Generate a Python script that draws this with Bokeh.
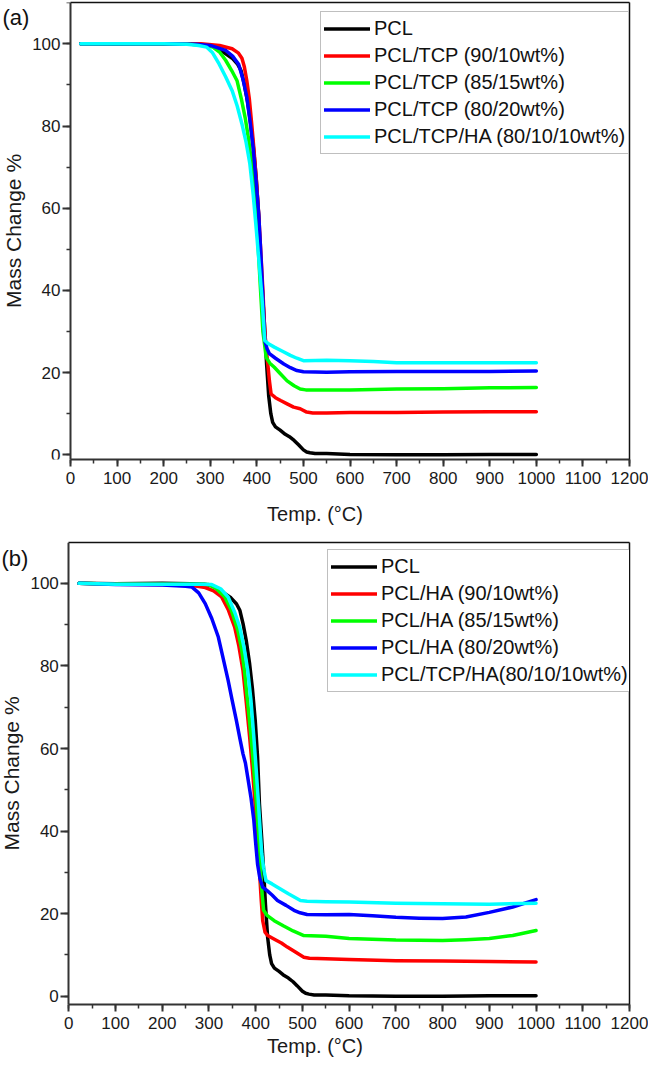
from bokeh.plotting import figure
from bokeh.models import (Range1d, SingleIntervalTicker, FixedTicker, Legend, LegendItem, Label,
                          LinearAxis)
from bokeh.layouts import column
from bokeh.embed import file_html
from bokeh.resources import INLINE

FONT = "Liberation Sans"

# ---------------- data ----------------
# PCL (same sample in both panels)
pcl_T = [22, 100, 200, 260, 290, 306, 320, 334, 347, 359, 366, 373, 380, 387, 393, 399, 404, 408,
         413, 417, 421, 425.5, 430, 434, 440, 450, 461, 470, 480, 489, 500, 507, 514, 525, 550, 600,
         700, 800, 900, 1000]
pcl_m = [100, 99.9, 100, 99.9, 99.8, 99.5, 98.6, 97.5, 96.5, 95, 93.5, 90.2, 86, 80.5, 74.5, 66.8,
         58, 46.6, 38, 30.5, 22, 14.3, 10, 7.9, 6.8, 6, 5, 4.4, 3.5, 2.5, 1.2, 0.7, 0.5, 0.3, 0.3,
         0.1, 0.0, 0.0, 0.1, 0.1]

# Panel (a): PCL/TCP composites
tcp90_T = [22, 100, 200, 280, 320, 347, 360, 368, 373, 378.5, 384, 389, 394, 399, 404, 408, 413, 417,
           420, 423.6, 427, 430.6, 440, 451, 465, 479, 493, 507, 520, 550, 600, 700, 800, 900, 1000]
tcp90_m = [100, 100, 100, 100, 99.6, 98.8, 97.8, 96.5, 94.5, 91, 86.5, 80.5, 74, 66.7, 58.5, 50.5,
           40, 30, 26, 22, 18, 14.8, 13.9, 13.2, 12.4, 11.6, 11.2, 10.4, 10.2, 10.2, 10.3, 10.3,
           10.4, 10.5, 10.5]

tcp85_T = [22, 100, 200, 260, 285, 305.6, 320, 333, 346, 357.6, 367, 375, 382, 389, 395, 401, 407,
           413, 417, 420, 428, 437.5, 450, 465, 480, 493, 505, 550, 600, 700, 800, 900, 1000]
tcp85_m = [100, 100, 100, 99.9, 99.6, 99.2, 98, 96, 93.5, 91, 86.5, 82, 77, 70.8, 63, 54.6, 42, 30,
           26.5, 23.7, 22.3, 21.3, 19.8, 18, 16.8, 16, 15.8, 15.8, 15.8, 16, 16.1, 16.3, 16.4]

tcp80_T = [22, 100, 200, 270, 300, 333, 348, 361, 370, 378.5, 385, 392, 398, 404, 409, 413, 417,
           422, 427, 440, 458, 472, 486, 500, 550, 600, 700, 800, 900, 1000]
tcp80_m = [100, 100, 100, 99.9, 99.6, 98.4, 97, 95, 91.5, 87, 81.5, 74.8, 67, 58.6, 48, 38.3, 27.8,
           25.8, 24.6, 23.5, 22.1, 21.2, 20.5, 20.2, 20.1, 20.2, 20.3, 20.3, 20.3, 20.4]

tcpha_a_T = [22, 100, 200, 250, 275, 292, 305, 319, 333, 347, 358, 368, 377, 385, 392, 399, 405,
             411, 417, 425, 437.5, 455, 472, 486, 500, 550, 600, 650, 700, 800, 900, 1000]
tcpha_a_m = [100, 100, 100, 99.9, 99.6, 99.2, 97.8, 95.1, 92, 88.6, 84.8, 80.5, 76, 70.8, 63.5,
             54.6, 46.5, 38.3, 27.8, 27, 26.2, 25.2, 24.2, 23.5, 22.9, 23, 22.9, 22.7, 22.4, 22.4,
             22.4, 22.4]

# Panel (b): PCL/HA composites
ha90_T = [22, 100, 200, 250, 275, 292, 310, 327, 341, 355, 364, 372.8, 380, 387, 393, 398.7, 404,
          408, 412, 415, 420, 425.5, 440, 455, 467.7, 485, 503, 515, 550, 600, 700, 800, 900, 1000]
ha90_m = [100, 99.8, 99.7, 99.6, 99.3, 99, 98.2, 96.7, 93.7, 89.4, 84.8, 78.9, 71, 62.8, 55, 46.6,
          38, 30.5, 23, 18.3, 15.5, 14.7, 13.8, 12.9, 11.9, 10.7, 9.45, 9.2, 9.1, 8.9, 8.6, 8.5,
          8.4, 8.3]

ha85_T = [22, 100, 200, 260, 285, 299, 315, 334, 348, 362, 370, 376, 383, 390, 396, 401.6, 406, 410,
          414, 417, 425, 439.6, 460, 480, 503, 550, 600, 700, 800, 850, 900, 950, 1000]
ha85_m = [100, 99.8, 99.8, 99.8, 99.8, 99.7, 98.8, 96.7, 93.5, 88.5, 84, 78.9, 71, 62.8, 55, 46.6,
          39, 30.5, 24.5, 20.8, 19.5, 18.3, 17, 15.8, 14.7, 14.5, 14.0, 13.6, 13.5, 13.7, 14.0,
          14.7, 15.9]

ha80_T = [22, 100, 200, 230, 250, 263.7, 278, 292, 306, 320, 330, 341, 350, 358.6, 366, 372.8, 378,
          383, 390, 396, 400, 404, 409, 415, 425, 435, 446.6, 465, 481.9, 495, 510, 550, 600, 650,
          700, 750, 800, 850, 900, 950, 1000]
ha80_m = [100, 99.7, 99.6, 99.4, 99.3, 99.1, 97.7, 95.1, 91.5, 87, 82, 76.5, 71.5, 66.8, 62.5, 58.7,
          56.5, 53, 48, 42.6, 37, 32, 28.5, 26.4, 25.5, 24.5, 23.2, 22, 20.8, 20.2, 19.8, 19.7,
          19.8, 19.5, 19.1, 18.9, 18.8, 19.2, 20.3, 21.6, 23.4]

tcpha_b_T = [22, 100, 200, 260, 285, 306, 325, 341, 355, 365.8, 375, 383, 390, 396, 401, 406, 410,
             413, 417, 422, 435, 446.6, 470, 495.8, 510, 550, 600, 700, 800, 900, 1000]
tcpha_b_m = [100, 99.8, 99.8, 99.8, 99.8, 99.7, 98.7, 96.7, 93, 89.4, 84.5, 78.9, 71.5, 62.8, 55,
             46.6, 39.5, 34.5, 31, 28, 27.2, 26.4, 24.8, 23.2, 23, 22.9, 22.8, 22.5, 22.4, 22.3,
             22.5]

labels_a = ["PCL", "PCL/TCP (90/10wt%)", "PCL/TCP (85/15wt%)", "PCL/TCP (80/20wt%)",
            "PCL/TCP/HA (80/10/10wt%)"]
labels_b = ["PCL", "PCL/HA (90/10wt%)", "PCL/HA (85/15wt%)", "PCL/HA (80/20wt%)",
            "PCL/TCP/HA(80/10/10wt%)"]
colors = ["#000000", "#FF0000", "#00FF00", "#0000FF", "#00FFFF"]

x_min, x_max = 0, 1200
x_ticks_interval = 100
y_ticks_interval = 20
x_label = "Temp. (°C)"
y_label = "Mass Change %"


def style_axis(ax):
    ax.axis_line_color = "#333333"
    ax.axis_line_width = 2
    ax.major_tick_line_color = "#333333"
    ax.minor_tick_line_color = "#333333"
    ax.major_tick_line_width = 2
    ax.minor_tick_line_width = 1.5
    ax.major_tick_in = 0
    ax.major_tick_out = 8
    ax.minor_tick_in = 0
    ax.minor_tick_out = 4
    ax.major_label_text_font = FONT
    ax.major_label_text_font_size = "17px"
    ax.major_label_text_color = "#1a1a1a"
    ax.axis_label_text_font = FONT
    ax.axis_label_text_font_style = "normal"
    ax.axis_label_text_color = "#1a1a1a"


def make_panel(series, labels, height, x_left_pad, y_start, y_end, mb_right, mb_top, mb_bottom,
               legend_loc, label_width, tag, tag_xy, xlabel_standoff):
    # frame extends left of x=0 so that the y axis (fixed at x=0), its labels and the
    # panel tag all sit inside the frame
    p = figure(width=648, height=height, x_range=Range1d(x_left_pad, x_max),
               y_range=Range1d(y_start, y_end), output_backend="svg", toolbar_location=None,
               y_axis_location=None, min_border_left=0, min_border_right=mb_right,
               min_border_top=mb_top, min_border_bottom=mb_bottom, frame_align=False)
    p.grid.visible = False
    p.outline_line_color = None
    p.background_fill_color = "white"
    p.border_fill_color = "white"

    # bottom axis
    p.xaxis.ticker = SingleIntervalTicker(interval=x_ticks_interval, num_minor_ticks=2)
    p.xaxis.bounds = (x_min, x_max)
    p.xaxis.axis_label = x_label
    style_axis(p.xaxis[0])
    p.xaxis.major_tick_out = 7
    p.xaxis.axis_label_text_font_size = "20px"
    p.xaxis.major_label_standoff = 5
    p.xaxis.axis_label_standoff = xlabel_standoff

    # left axis at x = 0
    yax = LinearAxis(fixed_location=x_min,
                     ticker=SingleIntervalTicker(interval=y_ticks_interval, num_minor_ticks=2),
                     axis_label=y_label)
    style_axis(yax)
    yax.axis_label_text_font_size = "21px"
    yax.major_label_standoff = 2
    yax.axis_label_standoff = 4
    p.add_layout(yax, "left")

    # top and right edges of the box
    top = LinearAxis(ticker=FixedTicker(ticks=[]), bounds=(x_min, x_max),
                     axis_line_color="#111111", axis_line_width=1.5,
                     major_tick_out=0, minor_tick_out=0, major_tick_in=0, minor_tick_in=0)
    p.add_layout(top, "above")
    right = LinearAxis(ticker=FixedTicker(ticks=[]), axis_line_color="#111111",
                       axis_line_width=1.5, major_tick_out=0, minor_tick_out=0,
                       major_tick_in=0, minor_tick_in=0)
    p.add_layout(right, "right")

    items = []
    for (T, m), lab, col in zip(series, labels, colors):
        r = p.line(T, m, line_color=col, line_width=3.5, line_cap="round", line_join="round")
        items.append(LegendItem(label=lab, renderers=[r]))

    legend = Legend(items=items, location=legend_loc, orientation="vertical")
    legend.glyph_width = 46
    legend.glyph_height = 27
    legend.label_height = 27
    legend.label_width = label_width
    legend.label_standoff = 4
    legend.spacing = 0
    legend.padding = 3
    legend.margin = 0
    legend.border_line_color = "#808080"
    legend.border_line_width = 1
    legend.background_fill_color = "white"
    legend.background_fill_alpha = 1
    legend.label_text_font = FONT
    legend.label_text_font_size = "20px"
    legend.label_text_color = "#111111"
    p.add_layout(legend)

    p.add_layout(Label(x=tag_xy[0], y=tag_xy[1], x_units="screen", y_units="screen", text=tag,
                       text_font=FONT, text_font_size="22px", text_color="#111111",
                       text_align="left", text_baseline="middle"))
    return p


# panel (a): x=0 at 70 px, x=1200 at 629 px (room for the last tick label); y: 100 at 43.3, 0 at 454.3
pa = make_panel([(pcl_T, pcl_m), (tcp90_T, tcp90_m), (tcp85_T, tcp85_m), (tcp80_T, tcp80_m),
                 (tcpha_a_T, tcpha_a_m)], labels_a,
                height=533, x_left_pad=-150.27, y_start=-1.14, y_end=110.05,
                mb_right=19, mb_top=2, mb_bottom=74,
                legend_loc=(320, 305), label_width=251, tag="(a)", tag_xy=(2, 442),
                xlabel_standoff=16)

# panel (b): x=0 at 68.3 px, x=1200 at 629 px; y: 100 at 583 px, 0 at 995.7 px
pb = make_panel([(pcl_T, pcl_m), (ha90_T, ha90_m), (ha85_T, ha85_m), (ha80_T, ha80_m),
                 (tcpha_b_T, tcpha_b_m)], labels_b,
                height=528, x_left_pad=-146.17, y_start=-2.01, y_end=109.9,
                mb_right=19, mb_top=9, mb_bottom=57,
                legend_loc=(327, 312), label_width=242, tag="(b)", tag_xy=(1, 446),
                xlabel_standoff=3)

layout = column(pa, pb, spacing=0)
open("out.html", "w").write(file_html(layout, INLINE))
